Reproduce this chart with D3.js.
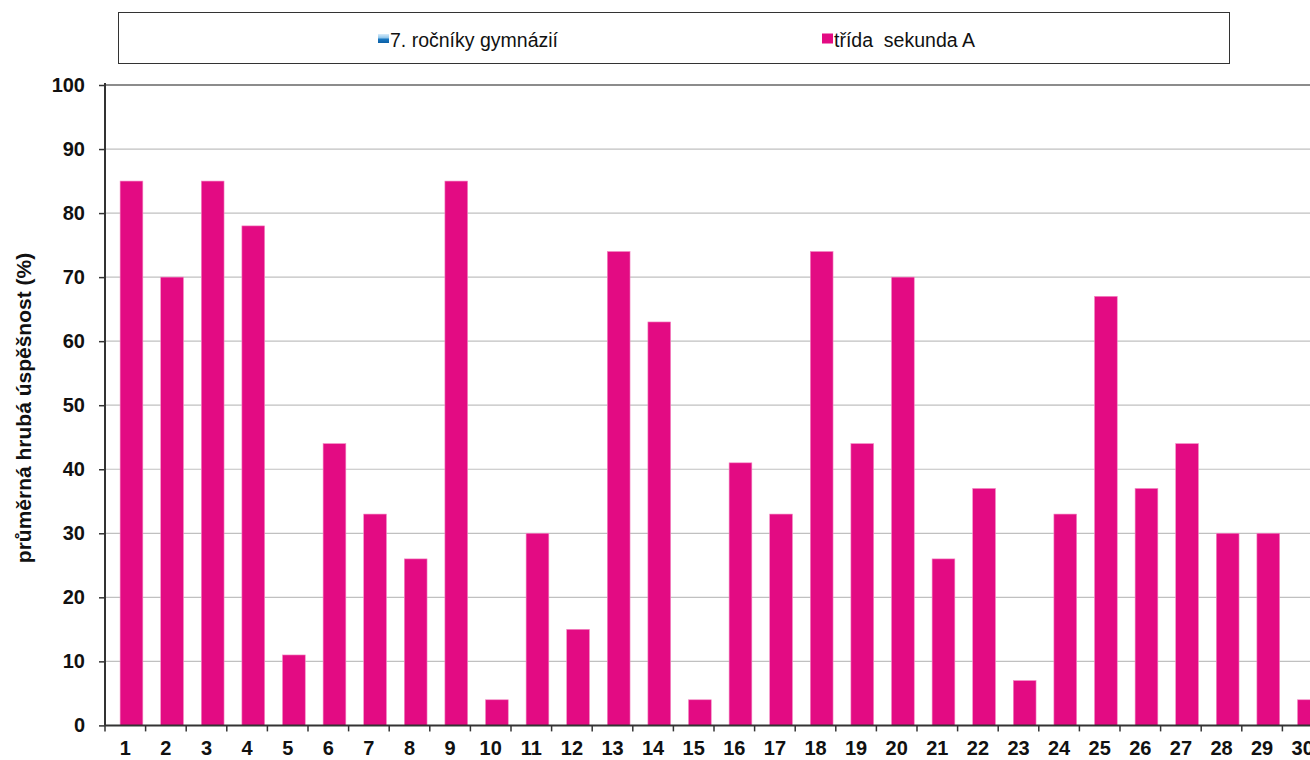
<!DOCTYPE html>
<html><head><meta charset="utf-8">
<script src="https://cdn.jsdelivr.net/npm/d3@7"></script>
<style>body{margin:0;background:#fff;overflow:hidden}svg{display:block;font-family:"Liberation Sans",Arial,sans-serif}</style>
</head><body><svg id="c" width="1310" height="760"></svg>
<script>
(function(){
const categories = ["1","2","3","4","5","6","7","8","9","10","11","12","13","14","15","16","17","18","19","20","21","22","23","24","25","26","27","28","29","30"];
const tridaValues = [85,70,85,78,11,44,33,26,85,4,30,15,74,63,4,41,33,74,44,70,26,37,7,33,67,37,44,30,30,4];
const yTicks = [0,10,20,30,40,50,60,70,80,90,100];
const seriesNames = ["7. ročníky gymnázií","třída  sekunda A"];
const yTitle = "průměrná hrubá úspěšnost (%)";

const svg = d3.select("#c");
const mLeft = 105, mBottom = 725.4, mTop = 85, bw = 40.6;
const x = d3.scaleBand().domain(categories).range([mLeft, mLeft + bw*categories.length]).padding(0);
const y = d3.scaleLinear().domain([0,100]).range([mBottom, mTop]);

const defs = svg.append("defs");
const g1 = defs.append("linearGradient").attr("id","blueG").attr("x1",0).attr("y1",0).attr("x2",0).attr("y2",1);
g1.append("stop").attr("offset","0%").attr("stop-color","#d8ecfa");
g1.append("stop").attr("offset","45%").attr("stop-color","#8cc4ea");
g1.append("stop").attr("offset","55%").attr("stop-color","#1a78c2");
g1.append("stop").attr("offset","100%").attr("stop-color","#0b5fa5");

// gridlines
svg.append("g").selectAll("line").data(yTicks.filter(d=>d>0)).join("line")
  .attr("x1", mLeft).attr("x2", 1310).attr("y1", d=>y(d)).attr("y2", d=>y(d))
  .attr("stroke", d=> d===100 ? "#8c8c8c" : "#c0c0c0").attr("stroke-width", d=> d===100 ? 2 : 1.2);

// bars
svg.append("g").selectAll("rect").data(tridaValues).join("rect")
  .attr("x", (d,i)=> x(categories[i]) + x.bandwidth()*0.372)
  .attr("width", x.bandwidth()*0.56)
  .attr("y", d=>y(d)).attr("height", d=>y(0)-y(d))
  .attr("fill","#e30b83").attr("stroke","#f48ac4").attr("stroke-width",0.6);

// y axis
const ya = svg.append("g").attr("transform",`translate(${mLeft},0)`)
  .call(d3.axisLeft(y).tickValues(yTicks).tickSize(6).tickPadding(14).tickFormat(d3.format("d")));
ya.select(".domain").attr("stroke","#333").attr("stroke-width",2).attr("d",`M0,${mTop-2}V${mBottom}`);
ya.selectAll(".tick line").attr("stroke","#333").attr("stroke-width",1.5);
ya.selectAll(".tick text").attr("font-size",20).attr("font-weight","bold").attr("fill","#111")
  .attr("font-family","Liberation Sans, Arial, sans-serif");

// x axis
const xa = svg.append("g").attr("transform",`translate(0,${mBottom})`)
  .call(d3.axisBottom(x).tickSize(0).tickPadding(15.5));
xa.select(".domain").remove();
xa.append("line").attr("x1",mLeft).attr("x2",1310).attr("y1",0).attr("y2",0).attr("stroke","#333").attr("stroke-width",2);
xa.selectAll(".tick text").attr("font-size",20).attr("font-weight","bold").attr("fill","#111")
  .attr("font-family","Liberation Sans, Arial, sans-serif");
xa.append("g").selectAll("line").data(categories).join("line")
  .attr("x1",d=>x(d)).attr("x2",d=>x(d)).attr("y1",0).attr("y2",6)
  .attr("stroke","#333").attr("stroke-width",1.5);

// y title
svg.append("text").attr("transform","translate(31,408) rotate(-90)")
  .attr("text-anchor","middle").attr("font-size",21).attr("font-weight","bold").attr("fill","#111")
  .text(yTitle);

// legend
svg.append("rect").attr("x",118.5).attr("y",12.5).attr("width",1111).attr("height",51)
  .attr("fill","#fff").attr("stroke","#333").attr("stroke-width",1);
const lg = svg.append("g");
lg.append("rect").attr("x",378).attr("y",34).attr("width",11).attr("height",9).attr("fill","url(#blueG)");
lg.append("text").attr("x",390).attr("y",46.5).attr("font-size",19.5).attr("fill","#111").text(seriesNames[0]);
lg.append("rect").attr("x",822).attr("y",33.5).attr("width",11).attr("height",10).attr("fill","#e30b83");
lg.append("text").attr("x",834).attr("y",46.5).attr("font-size",19.5).attr("fill","#111").style("white-space","pre").text(seriesNames[1]);
})();
</script></body></html>
